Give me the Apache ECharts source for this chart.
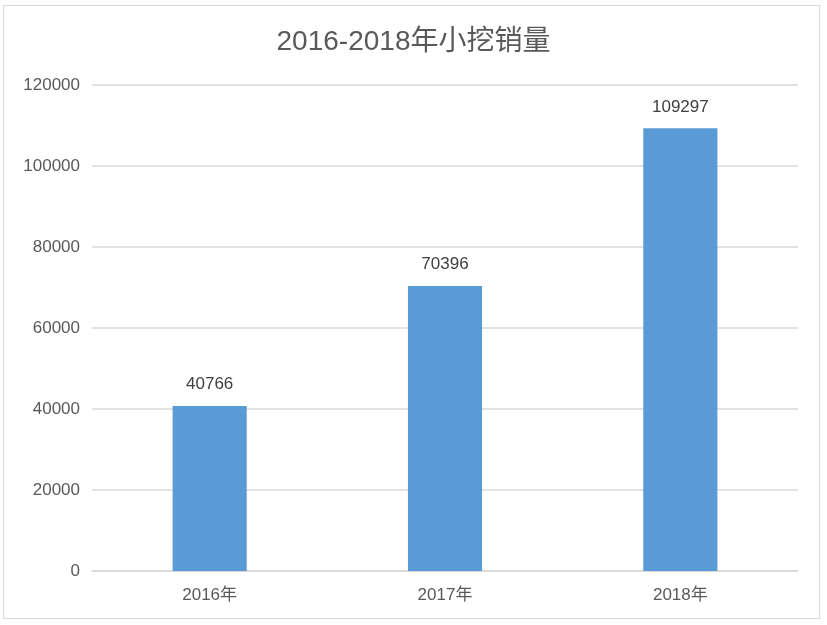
<!DOCTYPE html>
<html><head><meta charset="utf-8">
<script src="https://cdn.jsdelivr.net/npm/echarts@6/dist/echarts.min.js"></script>
<style>html,body{margin:0;padding:0;background:#fff}#frame{position:absolute;left:3px;top:5px;width:817px;height:614px;border:1.5px solid #d9d9d9;box-sizing:border-box}#c{width:827px;height:625px;position:absolute;left:0;top:0}</style>
</head><body><div id="frame"></div><div id="c"></div>
<script>
const title = '2016-2018年小挖销量';
const categories = ['2016年', '2017年', '2018年'];
const sales = [40766, 70396, 109297];
const yTicks = { min: 0, max: 120000, interval: 20000 };
const chart = echarts.init(document.getElementById('c'));
chart.setOption({
  animation: false,
  title: { text: title, left: 'center', top: 23, textStyle: { fontSize: 28, fontWeight: 'normal', color: '#595959', fontFamily: 'Liberation Sans, Noto Sans CJK SC, sans-serif' } },
  grid: { left: 92, right: 29, top: 85, bottom: 54 },
  xAxis: { type: 'category', data: categories,
    axisLine: { lineStyle: { color: '#d9d9d9', width: 1.5 } }, axisTick: { show: false },
    axisLabel: { color: '#595959', fontSize: 17, margin: 16, fontFamily: 'Liberation Sans, Noto Sans CJK SC, sans-serif' } },
  yAxis: { type: 'value', min: yTicks.min, max: yTicks.max, interval: yTicks.interval,
    axisLine: { show: false }, axisTick: { show: false },
    splitLine: { lineStyle: { color: '#d9d9d9', width: 1.5 } },
    axisLabel: { color: '#595959', fontSize: 17, margin: 12, formatter: v => String(v), fontFamily: 'Liberation Sans, sans-serif' } },
  series: [{ type: 'bar', data: sales, barWidth: '31.5%', itemStyle: { color: '#5B9BD5' },
    label: { show: true, position: 'top', distance: 13, color: '#404040', fontSize: 17, fontFamily: 'Liberation Sans, sans-serif' } }]
});
</script></body></html>
